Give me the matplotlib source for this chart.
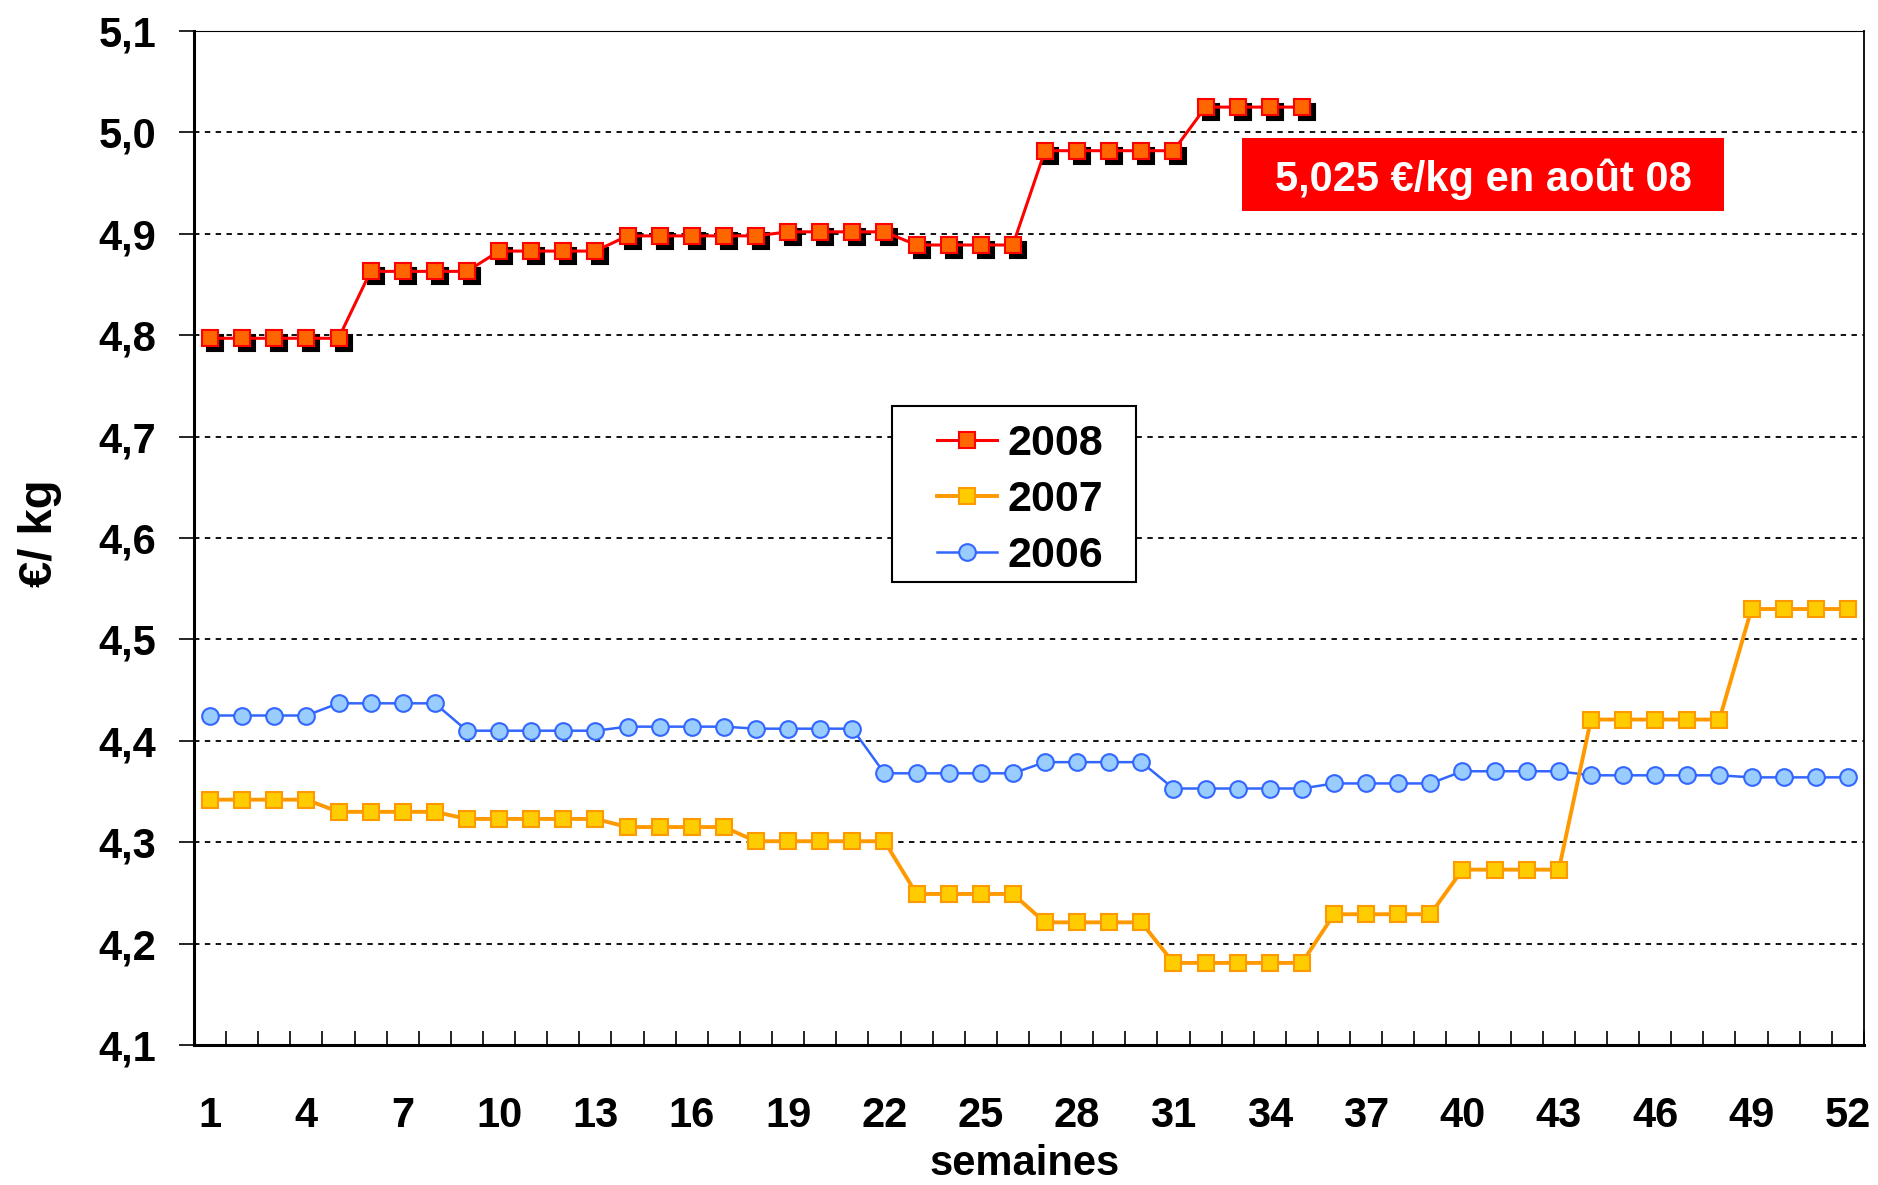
import matplotlib
matplotlib.use('Agg')
import matplotlib.pyplot as plt
from matplotlib.patches import Rectangle
from matplotlib.transforms import offset_copy

plt.rcParams['font.family'] = ['Liberation Sans', 'DejaVu Sans']
plt.rcParams['font.weight'] = 'bold'

# weekly prices, EUR/kg
weeks = list(range(1, 53))
prix_2008 = [4.797, 4.797, 4.797, 4.797, 4.797,
             4.863, 4.863, 4.863, 4.863,
             4.883, 4.883, 4.883, 4.883,
             4.898, 4.898, 4.898, 4.898, 4.898,
             4.902, 4.902, 4.902, 4.902,
             4.889, 4.889, 4.889, 4.889,
             4.982, 4.982, 4.982, 4.982, 4.982,
             5.025, 5.025, 5.025, 5.025]
prix_2007 = [4.342, 4.342, 4.342, 4.342,
             4.330, 4.330, 4.330, 4.330,
             4.323, 4.323, 4.323, 4.323, 4.323,
             4.315, 4.315, 4.315, 4.315,
             4.301, 4.301, 4.301, 4.301, 4.301,
             4.249, 4.249, 4.249, 4.249,
             4.221, 4.221, 4.221, 4.221,
             4.181, 4.181, 4.181, 4.181, 4.181,
             4.229, 4.229, 4.229, 4.229,
             4.273, 4.273, 4.273, 4.273,
             4.421, 4.421, 4.421, 4.421, 4.421,
             4.530, 4.530, 4.530, 4.530]
prix_2006 = [4.425, 4.425, 4.425, 4.425,
             4.437, 4.437, 4.437, 4.437,
             4.410, 4.410, 4.410, 4.410, 4.410,
             4.414, 4.414, 4.414, 4.414,
             4.412, 4.412, 4.412, 4.412,
             4.368, 4.368, 4.368, 4.368, 4.368,
             4.379, 4.379, 4.379, 4.379,
             4.353, 4.353, 4.353, 4.353, 4.353,
             4.358, 4.358, 4.358, 4.358,
             4.370, 4.370, 4.370, 4.370,
             4.366, 4.366, 4.366, 4.366, 4.366,
             4.364, 4.364, 4.364, 4.364]
week_labels = [1, 4, 7, 10, 13, 16, 19, 22, 25, 28, 31, 34, 37, 40, 43, 46, 49, 52]
y_ticks = [4.1, 4.2, 4.3, 4.4, 4.5, 4.6, 4.7, 4.8, 4.9, 5.0, 5.1]
annotation = '5,025 €/kg en août 08'

fig = plt.figure(figsize=(18.78, 11.85), dpi=100)
ax = fig.add_axes([0.1033, 0.1181, 0.8892, 0.8557])

# 2006
ax.plot(weeks, prix_2006, color='#3366FF', lw=1.8, marker='o', ms=12,
        mfc='#99CCFF', mec='#3366FF', mew=1.5, label='2006', zorder=3)
# 2007
ax.plot(weeks, prix_2007, color='#FF9900', lw=2.8, marker='s', ms=12,
        mfc='#FFCC00', mec='#FF9900', mew=1.5, label='2007', zorder=3)
# 2008 with drop shadow on markers
shadow = offset_copy(ax.transData, fig=fig, x=5, y=-5, units='dots')
ax.plot(weeks[:len(prix_2008)], prix_2008, ls='none', marker='s', ms=12,
        mfc='black', mec='black', mew=1.5, transform=shadow, zorder=4)
ax.plot(weeks[:len(prix_2008)], prix_2008, color='#FF0000', lw=2.2, marker='s', ms=12,
        mfc='#FF6600', mec='#FF0000', mew=1.5, label='2008', zorder=5)

ax.set_xlim(0.5, 52.5)
ax.set_ylim(4.1, 5.1)

ax.set_yticks(y_ticks)
ax.set_yticklabels([f'{v:.1f}'.replace('.', ',') for v in y_ticks])
ax.set_xticks(week_labels)
ax.set_xticklabels([str(w) for w in week_labels])
ax.set_xticks([w - 0.5 for w in weeks] + [52.5], minor=True)

ax.tick_params(axis='y', which='major', direction='out', length=11, width=1.2,
               labelsize=30, pad=16)
ax.tick_params(axis='x', which='major', length=0, labelsize=30, pad=37)
ax.tick_params(axis='x', which='minor', direction='in', length=10, width=1.2)

ax.grid(axis='y', color='black', ls=(0, (3, 3)), lw=1.3)
ax.set_axisbelow(True)

ax.spines['left'].set_linewidth(2.2)
ax.spines['bottom'].set_linewidth(2.2)
ax.spines['right'].set_linewidth(1.3)
ax.spines['top'].set_linewidth(0.8)

ax.set_xlabel('semaines', fontsize=30, fontweight='bold')
ax.xaxis.set_label_coords(0.4976, -0.098)
ax.set_ylabel('€/ kg', fontsize=34, fontweight='bold')
ax.yaxis.set_label_coords(-0.079, 0.505)

# annotation box
ax.add_patch(Rectangle((0.6275, 0.8225), 0.2886, 0.072, transform=ax.transAxes,
                       facecolor='#FF0000', edgecolor='none', zorder=6))
ax.text(0.772, 0.8535, annotation, transform=ax.transAxes, color='white',
        fontsize=30, fontweight='bold', ha='center', va='center', zorder=7)

# legend with its own frame
ax.add_patch(Rectangle((0.418, 0.4566), 0.1461, 0.1736, transform=ax.transAxes,
                       facecolor='white', edgecolor='black', lw=1.5, zorder=6))
handles, labels = ax.get_legend_handles_labels()
order = [2, 1, 0]
leg = ax.legend([handles[i] for i in order], [labels[i] for i in order],
                loc='upper left', bbox_to_anchor=(0.4449, 0.612), frameon=False,
                borderpad=0, borderaxespad=0, handlelength=1.4, handletextpad=0.25,
                labelspacing=0.37, numpoints=1, prop={'size': 31, 'weight': 'bold'})
leg.set_zorder(7)

fig.savefig('out.png', dpi=100)
